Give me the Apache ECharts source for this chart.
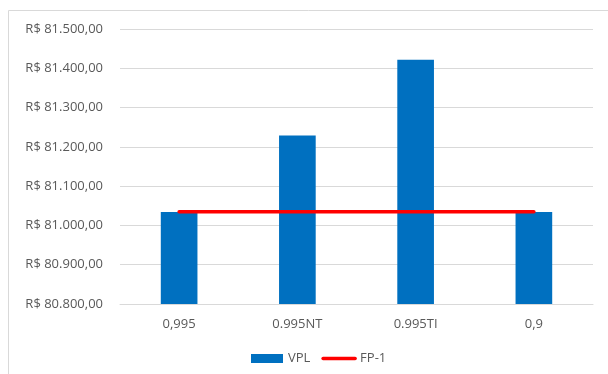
<!DOCTYPE html>
<html>
<head>
<meta charset="utf-8">
<script src="https://cdn.jsdelivr.net/npm/echarts@6/dist/echarts.min.js"></script>
<style>
  html, body { margin: 0; padding: 0; background: #fff; }
  #chart { width: 608px; height: 374px; }
</style>
</head>
<body>
<div id="chart"></div>
<script>
var categories = ["0,995", "0.995NT", "0.995TI", "0,9"];
var vplValues = [81034, 81229, 81422, 81034];
var fp1Values = [81035, 81035, 81035, 81035];

function fmtReal(v) {
  var parts = v.toFixed(2).split(".");
  var intPart = parts[0].replace(/\B(?=(\d{3})+(?!\d))/g, ".");
  return "R$ " + intPart + "," + parts[1];
}

var chart = echarts.init(document.getElementById("chart"), null, { renderer: "canvas" });

var option = {
  animation: false,
  textStyle: { fontFamily: "Open Sans" },
  graphic: [{
    type: "rect",
    shape: { x: 8.5, y: 10.5, width: 700, height: 500 },
    style: { fill: "none", stroke: "#d9d9d9", lineWidth: 1 },
    silent: true
  }],
  grid: { left: 120, right: 15, top: 29, bottom: 70 },
  legend: {
    bottom: 4,
    left: 246,
    itemGap: 11,
    itemWidth: 32,
    itemHeight: 9,
    textStyle: { color: "#595959", fontSize: 13 },
    data: [
      { name: "VPL", icon: "rect" },
      { name: "FP-1", itemStyle: { opacity: 0 }, lineStyle: { width: 3.5, cap: "round" } }
    ]
  },
  xAxis: {
    type: "category",
    data: categories,
    axisLine: { lineStyle: { color: "#d9d9d9", width: 1 } },
    axisTick: { show: false },
    axisLabel: { color: "#595959", fontSize: 13, margin: 14 }
  },
  yAxis: {
    type: "value",
    min: 80800,
    max: 81500,
    interval: 100,
    axisLine: { show: false },
    axisTick: { show: false },
    splitLine: { lineStyle: { color: "#d9d9d9", width: 1 } },
    axisLabel: {
      color: "#595959",
      fontSize: 13,
      margin: 17,
      formatter: fmtReal
    }
  },
  series: [
    {
      name: "VPL",
      type: "bar",
      data: vplValues,
      barWidth: "31%",
      itemStyle: { color: "#0070c0" }
    },
    {
      name: "FP-1",
      type: "line",
      data: fp1Values,
      symbol: "none",
      lineStyle: { color: "#ff0000", width: 3.5, cap: "round" },
      itemStyle: { color: "#ff0000" }
    }
  ]
};

chart.setOption(option);
</script>
</body>
</html>
